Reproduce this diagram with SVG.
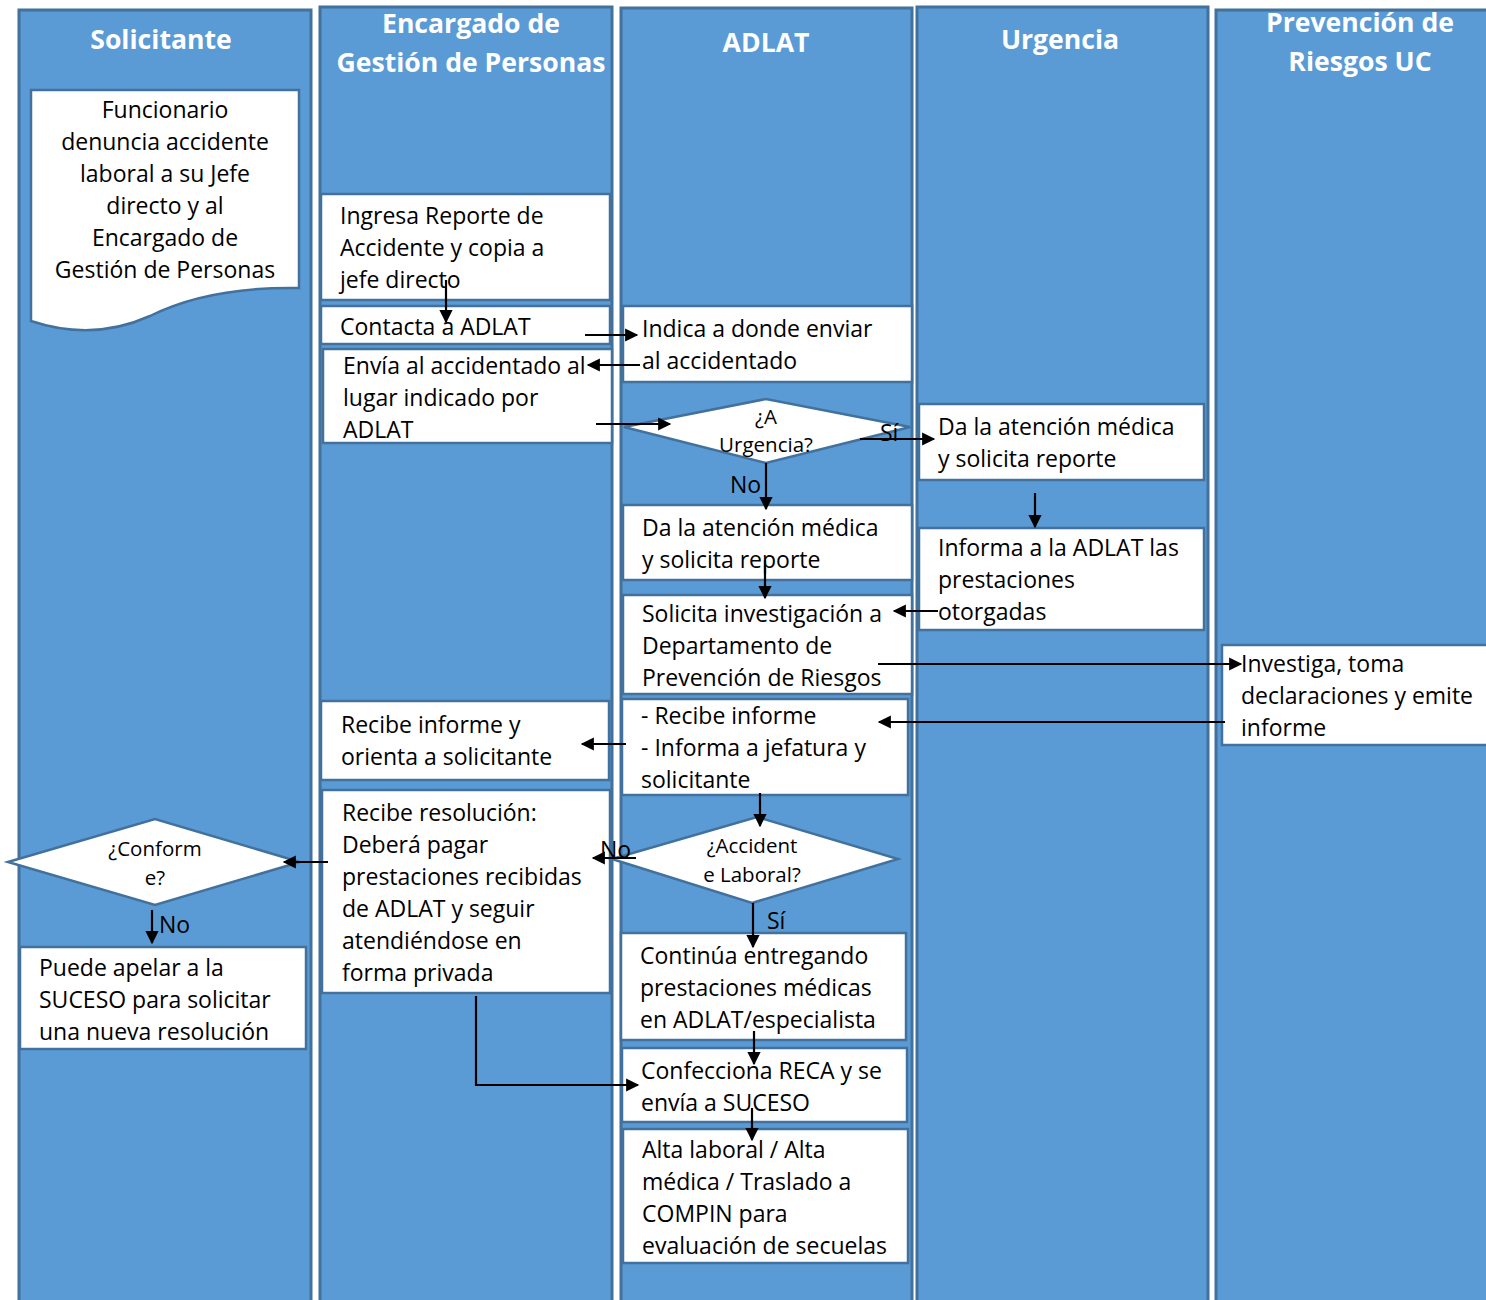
<svg xmlns="http://www.w3.org/2000/svg" width="1486" height="1300" viewBox="0 0 1486 1300">
<defs>
<marker id="ah" viewBox="0 0 10 10" refX="9" refY="5" markerWidth="6.5" markerHeight="6" orient="auto" markerUnits="strokeWidth"><path d="M0,0 L10,5 L0,10 z" fill="#000"/></marker>
<style>
.lane{fill:#5B9BD5;stroke:#41719C;stroke-width:3}
.box{fill:#fff;stroke:#41719C;stroke-width:2.5}
.h{font-family:"Open Sans",Lato,sans-serif;font-weight:bold;font-size:26.6px;fill:#fff;text-anchor:middle}
.t{font-family:"Open Sans",Lato,sans-serif;font-size:23px;fill:#000}
.c{text-anchor:middle}
.s{font-size:20.5px}
.cn{stroke:#000;stroke-width:2.2;fill:none;marker-end:url(#ah)}
</style>
</defs>
<rect width="1486" height="1300" fill="#fff"/>
<g id="lanes">
<rect class="lane" x="19" y="10" width="292" height="1295"/>
<rect class="lane" x="320" y="7" width="292" height="1298"/>
<rect class="lane" x="621" y="8" width="291" height="1297"/>
<rect class="lane" x="917" y="7" width="291" height="1298"/>
<rect class="lane" x="1216" y="10" width="275" height="1295"/>
<text class="h" x="161" y="49">Solicitante</text>
<text class="h" x="471" y="33">Encargado de</text>
<text class="h" x="471" y="72">Gestión de Personas</text>
<text class="h" x="766" y="52">ADLAT</text>
<text class="h" x="1060" y="49">Urgencia</text>
<text class="h" x="1360" y="32">Prevención de</text>
<text class="h" x="1360" y="71">Riesgos UC</text>
</g>
<g id="n1"><path class="box" d="M31,90 H299 V288 C240,287 190,296 150,316 C110,334 70,334 31,321 Z"/>
<text class="t c" x="165" y="118">Funcionario</text><text class="t c" x="165" y="150">denuncia accidente</text><text class="t c" x="165" y="182">laboral a su Jefe</text><text class="t c" x="165" y="214">directo y al</text><text class="t c" x="165" y="246">Encargado de</text><text class="t c" x="165" y="278">Gestión de Personas</text></g>
<g id="n2"><rect class="box" x="321" y="194" width="289" height="106"/><text class="t" x="340" y="224">Ingresa Reporte de</text><text class="t" x="340" y="256">Accidente y copia a</text><text class="t" x="340" y="288">jefe directo</text></g>
<g id="n3"><rect class="box" x="321" y="306" width="289" height="38"/><text class="t" x="340" y="335">Contacta a ADLAT</text></g>
<g id="n4"><rect class="box" x="323" y="349" width="289" height="94"/><text class="t" x="343" y="374">Envía al accidentado al</text><text class="t" x="343" y="406">lugar indicado por</text><text class="t" x="343" y="438">ADLAT</text></g>
<g id="n5"><rect class="box" x="623" y="306" width="289" height="76"/><text class="t" x="642" y="337">Indica a donde enviar</text><text class="t" x="642" y="369">al accidentado</text></g>
<g id="n6"><polygon class="box" points="624,427 766,399 910,427 766,463"/><text class="t s c" x="766" y="424">¿A</text><text class="t s c" x="766" y="452">Urgencia?</text></g>
<g id="n7"><rect class="box" x="919" y="404" width="285" height="76"/><text class="t" x="938" y="435">Da la atención médica</text><text class="t" x="938" y="467">y solicita reporte</text></g>
<g id="n8"><rect class="box" x="919" y="528" width="285" height="102"/><text class="t" x="938" y="556">Informa a la ADLAT las</text><text class="t" x="938" y="588">prestaciones</text><text class="t" x="938" y="620">otorgadas</text></g>
<g id="n9"><rect class="box" x="623" y="505" width="289" height="75"/><text class="t" x="642" y="536">Da la atención médica</text><text class="t" x="642" y="568">y solicita reporte</text></g>
<g id="n10"><rect class="box" x="623" y="595" width="289" height="99"/><text class="t" x="642" y="622">Solicita investigación a</text><text class="t" x="642" y="654">Departamento de</text><text class="t" x="642" y="686">Prevención de Riesgos</text></g>
<g id="n11"><rect class="box" x="1222" y="645" width="270" height="100"/><text class="t" x="1241" y="672">Investiga, toma</text><text class="t" x="1241" y="704">declaraciones y emite</text><text class="t" x="1241" y="736">informe</text></g>
<g id="n12"><rect class="box" x="622" y="699" width="286" height="96"/><text class="t" x="641" y="724">- Recibe informe</text><text class="t" x="641" y="756">- Informa a jefatura y</text><text class="t" x="641" y="788">solicitante</text></g>
<g id="n13"><rect class="box" x="321" y="701" width="288" height="79"/><text class="t" x="341" y="733">Recibe informe y</text><text class="t" x="341" y="765">orienta a solicitante</text></g>
<g id="n14"><rect class="box" x="322" y="790" width="288" height="203"/><text class="t" x="342" y="821">Recibe resolución:</text><text class="t" x="342" y="853">Deberá pagar</text><text class="t" x="342" y="885">prestaciones recibidas</text><text class="t" x="342" y="917">de ADLAT y seguir</text><text class="t" x="342" y="949">atendiéndose en</text><text class="t" x="342" y="981">forma privada</text></g>
<g id="n15"><polygon class="box" points="612,859 757,817 898,859 752,903"/><text class="t s c" x="752" y="853">¿Accident</text><text class="t s c" x="752" y="882">e Laboral?</text></g>
<g id="n16"><polygon class="box" points="8,862 155,819 300,862 155,905"/><text class="t s c" x="155" y="856">¿Conform</text><text class="t s c" x="155" y="885">e?</text></g>
<g id="n17"><rect class="box" x="20" y="947" width="286" height="102"/><text class="t" x="39" y="976">Puede apelar a la</text><text class="t" x="39" y="1008">SUCESO para solicitar</text><text class="t" x="39" y="1040">una nueva resolución</text></g>
<g id="n18"><rect class="box" x="621" y="933" width="285" height="107"/><text class="t" x="640" y="964">Continúa entregando</text><text class="t" x="640" y="996">prestaciones médicas</text><text class="t" x="640" y="1028">en ADLAT/especialista</text></g>
<g id="n19"><rect class="box" x="622" y="1048" width="285" height="74"/><text class="t" x="641" y="1079">Confecciona RECA y se</text><text class="t" x="641" y="1111">envía a SUCESO</text></g>
<g id="n20"><rect class="box" x="623" y="1129" width="285" height="134"/><text class="t" x="642" y="1158">Alta laboral / Alta</text><text class="t" x="642" y="1190">médica / Traslado a</text><text class="t" x="642" y="1222">COMPIN para</text><text class="t" x="642" y="1254">evaluación de secuelas</text></g>
<g id="connectors">
<path class="cn" d="M446,280 V322"/>
<path class="cn" d="M585,335 H637"/>
<path class="cn" d="M640,365 H588"/>
<path class="cn" d="M596,424 H670"/>
<path class="cn" d="M860,439 H934"/>
<path class="cn" d="M766,463 V509"/>
<path class="cn" d="M1035,493 V527"/>
<path class="cn" d="M765,560 V598"/>
<path class="cn" d="M938,611 H894"/>
<path class="cn" d="M878,664 H1241"/>
<path class="cn" d="M1225,722 H879"/>
<path class="cn" d="M626,744 H582"/>
<path class="cn" d="M760,793 V826"/>
<path class="cn" d="M636,858 H593"/>
<path class="cn" d="M328,862 H284"/>
<path class="cn" d="M152,910 V943"/>
<path class="cn" d="M753,903 V947"/>
<path class="cn" d="M476,996 V1085 H638"/>
<path class="cn" d="M754,1031 V1064"/>
<path class="cn" d="M752,1108 V1140"/>
<text class="t" x="880" y="441">Sí</text>
<text class="t" x="730" y="493">No</text>
<text class="t" x="600" y="858">No</text>
<text class="t" x="159" y="933">No</text>
<text class="t" x="767" y="929">Sí</text>
</g>
</svg>
